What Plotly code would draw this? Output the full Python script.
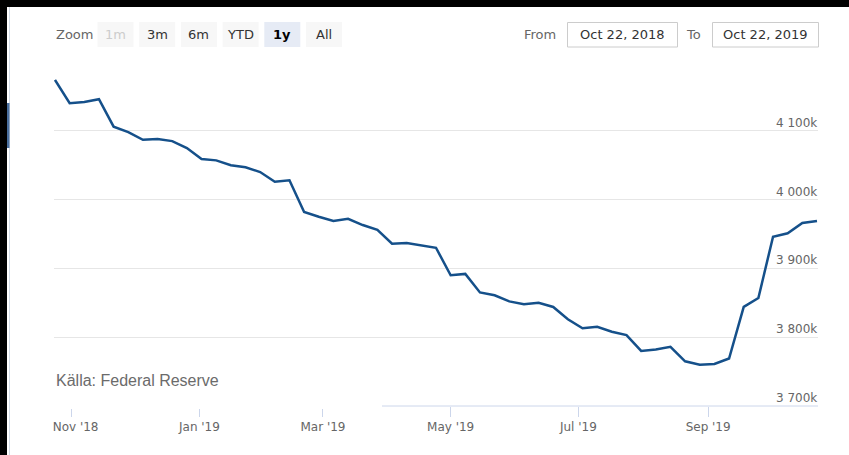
import plotly.graph_objects as go
import pandas as pd

# ---- data (Fed balance sheet, weekly, in thousands of USD millions: "k") ----
dates = pd.date_range("2018-10-24", periods=53, freq="7D")
values = [4174, 4140, 4142, 4146, 4106, 4098, 4087, 4088, 4085, 4075,
          4059, 4057, 4050, 4047, 4040, 4026, 4028, 3982, 3975, 3969,
          3972, 3963, 3956, 3936, 3937, 3933, 3930, 3890, 3892, 3865,
          3861, 3852, 3848, 3850, 3844, 3826, 3813, 3815, 3808, 3803,
          3780, 3782, 3786, 3765, 3760, 3761, 3769, 3844, 3857, 3946,
          3951, 3966, 3969]
x_tick_vals = ["2018-11-01", "2019-01-01", "2019-03-01", "2019-05-01", "2019-07-01", "2019-09-01"]
x_tick_text = ["\u00a0\u00a0Nov '18", "Jan '19", "Mar '19", "May '19", "Jul '19", "Sep '19"]
y_grid_vals = [3800, 3900, 4000, 4100, 4200]
y_label_vals = [3700, 3800, 3900, 4000, 4100]
y_label_text = ["3 700k", "3 800k", "3 900k", "4 000k", "4 100k"]
buttons = ["1m", "3m", "6m", "YTD", "1y", "All"]
selected_button = "1y"
disabled_button = "1m"
date_from = "Oct 22, 2018"
date_to = "Oct 22, 2019"
caption = "Källa: Federal Reserve"

W, H = 849, 455
L, R, T, B = 54, 31, 62, 49
PW, PH = W - L - R, H - T - B

def px(x):
    return (x - L) / PW

def py(y):
    return (H - B - y) / PH

FONT = "DejaVu Sans"

fig = go.Figure()
fig.add_trace(go.Scatter(x=dates, y=values, mode="lines",
                         line=dict(color="#15508a", width=2.5),
                         hoverinfo="x+y", showlegend=False))

shapes = []
annotations = []

# axis line (partially hidden in the original)
shapes.append(dict(type="line", xref="paper", yref="paper", x0=px(382), x1=1, y0=0, y1=0,
                   line=dict(color="#ccd6eb", width=1)))
# hide the tops of the first ticks like the original
shapes.append(dict(type="rect", xref="paper", yref="paper", x0=px(40), x1=px(381),
                   y0=py(409), y1=py(404), fillcolor="white", line=dict(width=0), layer="above"))

# range selector look-alike
annotations.append(dict(text="Zoom", xref="paper", yref="paper", x=px(54), y=py(34.5),
                        xanchor="left", yanchor="middle", showarrow=False,
                        font=dict(family=FONT, size=13, color="#666666")))
bx = 97.5
for b in buttons:
    fill = "#e6ebf5" if b == selected_button else "#f7f7f7"
    shapes.append(dict(type="rect", xref="paper", yref="paper", x0=px(bx), x1=px(bx + 36),
                       y0=py(47), y1=py(22), fillcolor=fill, line=dict(width=0)))
    if b == selected_button:
        txt, col = "<b>" + b + "</b>", "#000000"
    elif b == disabled_button:
        txt, col = b, "#cccccc"
    else:
        txt, col = b, "#333333"
    annotations.append(dict(text=txt, xref="paper", yref="paper", x=px(bx + 18), y=py(34.5),
                            xanchor="center", yanchor="middle", showarrow=False,
                            font=dict(family=FONT, size=13, color=col)))
    bx += 41.7

# date inputs
annotations.append(dict(text="From", xref="paper", yref="paper", x=px(558), y=py(34.5),
                        xanchor="right", yanchor="middle", showarrow=False,
                        font=dict(family=FONT, size=13, color="#666666")))
annotations.append(dict(text="To", xref="paper", yref="paper", x=px(703), y=py(34.5),
                        xanchor="right", yanchor="middle", showarrow=False,
                        font=dict(family=FONT, size=13, color="#666666")))
for (x0, x1, t) in [(567.5, 677.5, date_from), (712.5, 818.5, date_to)]:
    shapes.append(dict(type="rect", xref="paper", yref="paper", x0=px(x0), x1=px(x1),
                       y0=py(47), y1=py(22.5), fillcolor="white",
                       line=dict(color="#cccccc", width=1)))
    annotations.append(dict(text=t, xref="paper", yref="paper", x=px((x0 + x1) / 2), y=py(34.5),
                            xanchor="center", yanchor="middle", showarrow=False,
                            font=dict(family=FONT, size=13, color="#333333")))

# y labels inside on the right, above gridlines
for v, t in zip(y_label_vals, y_label_text):
    annotations.append(dict(text=t, xref="paper", yref="y", x=1, y=v, xanchor="right",
                            yanchor="bottom", yshift=-1, xshift=1, showarrow=False,
                            font=dict(family=FONT, size=12, color="#666666")))

# caption
annotations.append(dict(text=caption, xref="paper", yref="paper", x=px(54), y=py(380),
                        xanchor="left", yanchor="middle", showarrow=False,
                        font=dict(family="Liberation Sans", size=16, color="#6b6b6b")))

# screenshot frame artefacts (black edges, scrollbar)
shapes.append(dict(type="rect", xref="paper", yref="paper", x0=px(0), x1=px(7),
                   y0=py(H), y1=py(0), fillcolor="black", line=dict(width=0)))
shapes.append(dict(type="rect", xref="paper", yref="paper", x0=px(0), x1=px(W),
                   y0=py(7), y1=py(0), fillcolor="black", line=dict(width=0)))
shapes.append(dict(type="line", xref="paper", yref="paper", x0=px(9.5), x1=px(9.5),
                   y0=py(H), y1=py(7), line=dict(color="#d3dbe6", width=1)))
shapes.append(dict(type="rect", xref="paper", yref="paper", x0=px(7), x1=px(9.5),
                   y0=py(148), y1=py(103), fillcolor="#4a6f9e", line=dict(width=0)))

fig.update_layout(
    width=W, height=H, autosize=False,
    margin=dict(l=L, r=R, t=T, b=B, pad=0),
    paper_bgcolor="white", plot_bgcolor="white",
    shapes=shapes, annotations=annotations,
    xaxis=dict(type="date", range=["2018-10-23 12:30", "2019-10-23 11:30"],
               tickvals=x_tick_vals, ticktext=x_tick_text,
               ticks="outside", ticklen=10, tickcolor="#ccd6eb", tickwidth=1,
               showgrid=False, showline=False, zeroline=False,
               tickfont=dict(family=FONT, size=12, color="#666666"), fixedrange=True),
    yaxis=dict(range=[3700, 4200], tickvals=y_grid_vals, showticklabels=False,
               showgrid=True, gridcolor="#e6e6e6", gridwidth=1, zeroline=False,
               showline=False, ticks="", fixedrange=True),
    showlegend=False,
)

fig.write_html("out.html")
